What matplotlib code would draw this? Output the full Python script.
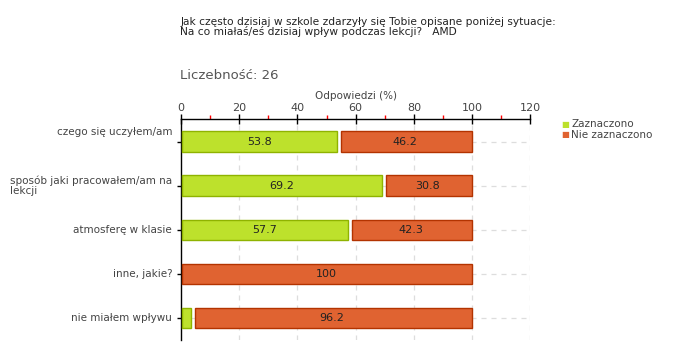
import numpy as np
import matplotlib
matplotlib.use('Agg')
import matplotlib.pyplot as plt
from matplotlib.ticker import MultipleLocator

# data
categories = ['czego się uczyłem/am', 'sposób jaki pracowałem/am na\nlekcji',
              'atmosferę w klasie', 'inne, jakie?', 'nie miałem wpływu']
zaznaczono = [53.8, 69.2, 57.7, 0.0, 3.8]
nie_zaznaczono = [46.2, 30.8, 42.3, 100.0, 96.2]
series_names = ['Zaznaczono', 'Nie zaznaczono']
title_lines = 'Jak często dzisiaj w szkole zdarzyły się Tobie opisane poniżej sytuacje:\nNa co miałaś/eś dzisiaj wpływ podczas lekcji?   AMD'
count_text = 'Liczebność: 26'

green, green_edge = '#bde12c', '#8fb300'
orange, orange_edge = '#e06331', '#b33300'
txt = '#444444'

plt.rcParams['font.family'] = ['DejaVu Sans']

fig = plt.figure(figsize=(6.8, 3.6), dpi=100)
ax = fig.add_axes([0.266, 0.0556, 0.514, 0.6125])

y = np.arange(len(categories))
gap = 1.2
h = 0.46

# green segment, slightly inset from the axis
for i, v in enumerate(zaznaczono):
    if v > 0:
        ax.barh(i, v - 0.6, left=0.4, height=h, color=green, edgecolor=green_edge,
                linewidth=1, zorder=3)
        if v > 10:
            ax.text(v / 2, i, f'{v:.1f}', ha='center', va='center', fontsize=8,
                    color='#222222', zorder=4)
# orange segment
for i, (a, b) in enumerate(zip(zaznaczono, nie_zaznaczono)):
    start = a + gap if a > 0 else 0.4
    ax.barh(i, a + b - 0.2 - start, left=start, height=h, color=orange,
            edgecolor=orange_edge, linewidth=1, zorder=3)
    lab = f'{b:.1f}' if b != 100 else '100'
    ax.text(a + b / 2, i, lab, ha='center', va='center', fontsize=8,
            color='#222222', zorder=4)

ax.set_xlim(0, 120)
ax.set_ylim(len(categories) - 0.5, -0.5)

# grid
for gx in range(20, 121, 20):
    ax.axvline(gx, color='#dddddd', linestyle=(0, (4, 4)), linewidth=0.9, zorder=1)
for gy in y:
    ax.axhline(gy, color='#dddddd', linestyle=(0, (4, 4)), linewidth=0.9, zorder=1)

ax.spines['right'].set_visible(False)
ax.spines['bottom'].set_visible(False)
ax.spines['top'].set_linewidth(1)
ax.spines['left'].set_linewidth(1)

ax.xaxis.tick_top()
ax.xaxis.set_label_position('top')
ax.xaxis.set_major_locator(MultipleLocator(20))
ax.xaxis.set_minor_locator(MultipleLocator(10))
ax.tick_params(axis='x', which='major', direction='inout', length=7, width=1,
               labelsize=8, colors=txt, pad=1)
ax.tick_params(axis='x', which='major', color='black')
ax.tick_params(axis='x', which='minor', direction='out', length=3, width=1, color='red')
ax.set_xlabel('Odpowiedzi (%)', fontsize=7.5, color=txt, labelpad=3)

ax.set_yticks(y)
ax.set_yticklabels([''] * len(categories))
ax.tick_params(axis='y', direction='out', length=3, width=1, color='black')
offsets = [-0.22, 0, 0, 0, 0]
for i, (c, off) in enumerate(zip(categories, offsets)):
    ax.text(-3, i + off, c, ha='right', va='center', fontsize=7.5, color=txt,
            multialignment='left', linespacing=1.05, clip_on=False)

# legend
fig.text(0.826, 0.655, '■', color=green, fontsize=6, va='center', ha='left')
fig.text(0.84, 0.655, series_names[0], color=txt, fontsize=7.5, va='center')
fig.text(0.826, 0.625, '■', color=orange, fontsize=6, va='center', ha='left')
fig.text(0.84, 0.625, series_names[1], color=txt, fontsize=7.5, va='center')

fig.text(0.265, 0.925, title_lines, fontsize=7.7, color='#222222', va='center',
         linespacing=0.95)
fig.text(0.265, 0.79, count_text, fontsize=9.5, color='#555555', va='center')

fig.savefig('out.png', dpi=100)
